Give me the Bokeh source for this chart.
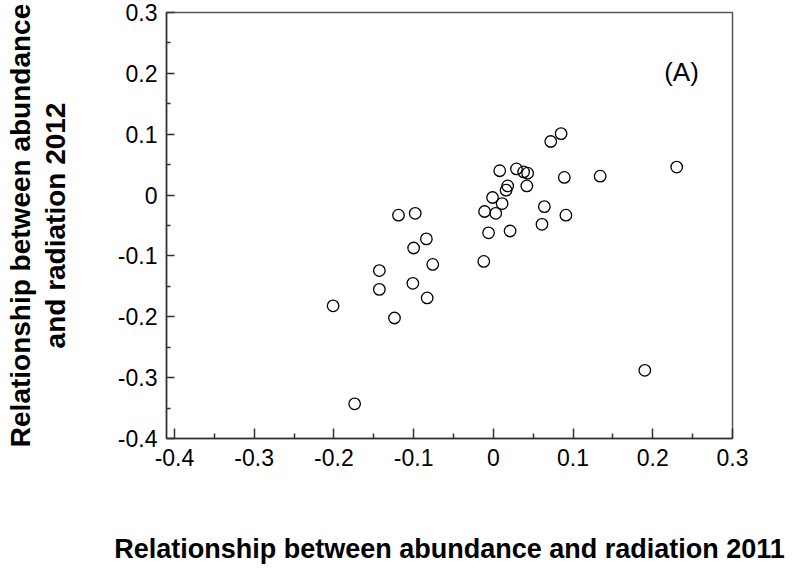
import math
from bokeh.plotting import figure
from bokeh.models import FixedTicker, Label, Range1d, ColumnDataSource
from bokeh.embed import file_html
from bokeh.resources import INLINE

# Data
x2011 = [-0.201, -0.174, -0.143, -0.143, -0.124, -0.119, -0.098, -0.100, -0.084, -0.076,
         -0.101, -0.083, -0.012, -0.006, 0.021, -0.011, 0.003, -0.001, 0.011, 0.018,
         0.016, 0.042, 0.008, 0.029, 0.038, 0.043, 0.089, 0.064, 0.091, 0.061,
         0.072, 0.085, 0.134, 0.230, 0.190]
y2012 = [-0.182, -0.343, -0.124, -0.155, -0.202, -0.033, -0.030, -0.087, -0.072, -0.114,
         -0.145, -0.169, -0.109, -0.062, -0.059, -0.027, -0.030, -0.004, -0.014, 0.015,
         0.008, 0.015, 0.040, 0.043, 0.038, 0.036, 0.029, -0.019, -0.033, -0.048,
         0.088, 0.101, 0.031, 0.046, -0.288]

x_ticks = [-0.4, -0.3, -0.2, -0.1, 0.0, 0.1, 0.2, 0.3]
x_tick_labels = ["-0.4", "-0.3", "-0.2", "-0.1", "0", "0.1", "0.2", "0.3"]
x_minor = [-0.35, -0.25, -0.15, -0.05, 0.05, 0.15, 0.25]
y_ticks = [-0.4, -0.3, -0.2, -0.1, 0.0, 0.1, 0.2, 0.3]
y_tick_labels = ["-0.4", "-0.3", "-0.2", "-0.1", "0", "0.1", "0.2", "0.3"]
y_minor = [-0.35, -0.25, -0.15, -0.05, 0.05, 0.15, 0.25]

x_title = "Relationship between abundance and radiation 2011"
y_title = "Relationship between abundance\nand radiation 2012"
panel_tag = "(A)"

FONT = "Liberation Sans"

p = figure(width=803, height=571, output_backend="svg", toolbar_location=None,
           x_range=Range1d(-0.41, 0.30), y_range=Range1d(-0.40, 0.30),
           min_border_left=166, min_border_right=71, min_border_top=12,
           min_border_bottom=133)
p.grid.visible = False
p.background_fill_color = "white"
p.border_fill_color = "white"
p.outline_line_color = "#555555"
p.outline_line_width = 1.5

src = ColumnDataSource(dict(x=x2011, y=y2012))
p.scatter("x", "y", source=src, marker="circle", size=11.5, fill_color=None,
          line_color="black", line_width=1.3)

xa = p.xaxis[0]
xa.ticker = FixedTicker(ticks=x_ticks, minor_ticks=x_minor)
xa.major_label_overrides = {t: l for t, l in zip(x_ticks, x_tick_labels)}
ya = p.yaxis[0]
ya.ticker = FixedTicker(ticks=y_ticks, minor_ticks=y_minor)
ya.major_label_overrides = {t: l for t, l in zip(y_ticks, y_tick_labels)}

for ax in (xa, ya):
    ax.axis_line_color = "#333333"
    ax.axis_line_width = 1.5
    ax.major_tick_line_color = "#333333"
    ax.minor_tick_line_color = "#333333"
    ax.major_tick_line_width = 1.5
    ax.minor_tick_line_width = 1.5
    ax.major_tick_out = 0
    ax.minor_tick_out = 0
    ax.major_label_text_font = FONT
    ax.major_label_text_font_size = "23px"
    ax.major_label_text_color = "black"
    ax.axis_label_text_font = FONT
    ax.axis_label_text_font_style = "bold"
    ax.axis_label_text_color = "black"

xa.major_label_standoff = 10
ya.major_label_standoff = 9
xa.major_tick_in = 10
xa.minor_tick_in = 5
ya.major_tick_in = 8
ya.minor_tick_in = 4

xa.axis_label = x_title
xa.axis_label_text_font_size = "27px"
xa.axis_label_standoff = 65

ya.axis_label = y_title
ya.axis_label_text_font_size = "28px"
ya.axis_label_text_line_height = 1.12
ya.axis_label_standoff = 44

p.add_layout(Label(x=0.236, y=0.203, text=panel_tag, text_align="center",
                   text_baseline="alphabetic", text_font=FONT, text_font_size="26px",
                   text_color="black"))

open("out.html", "w").write(file_html(p, INLINE))
